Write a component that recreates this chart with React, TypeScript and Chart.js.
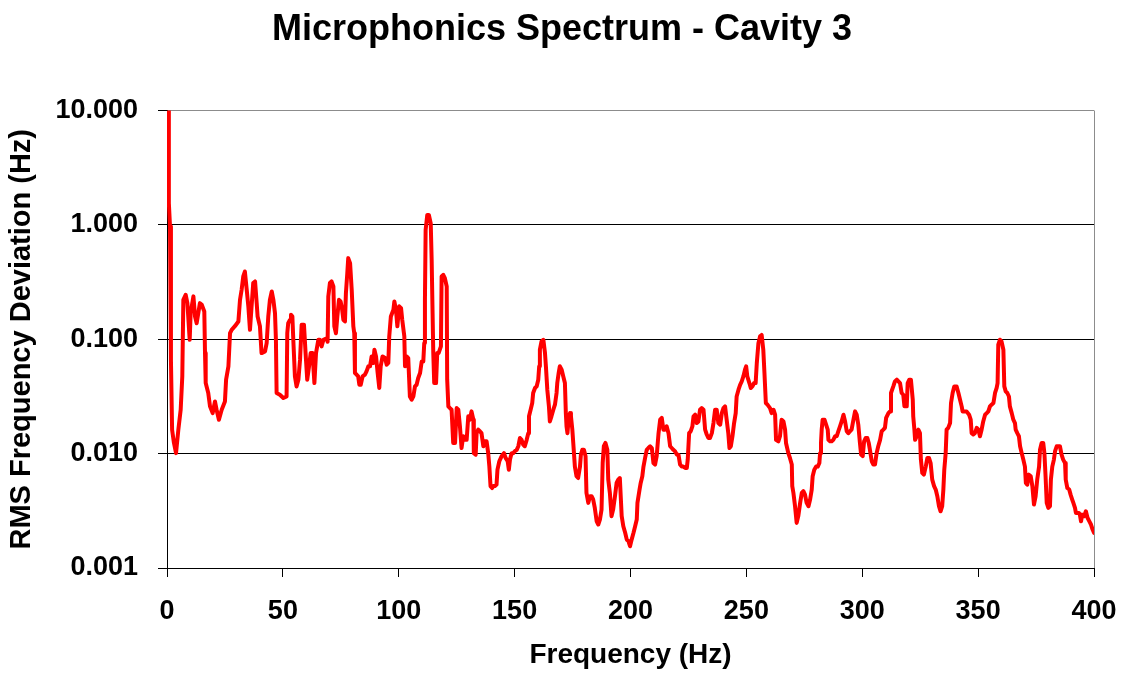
import React, { useEffect, useRef } from "react";
import { Chart, registerables } from "chart.js";

Chart.register(...registerables);

// Frequency axis positions (Hz) of the traced spectrum
const freqHz = [
  0.5, 0.8, 1.3, 1.7, 2.2, 3.0, 3.9, 4.9, 5.9, 6.6, 7.05, 8.05, 8.8, 9.8, 10.2, 11.4, 12.1, 12.8, 13.5, 14.2,
  15.0, 16.1, 16.4, 16.7, 17.8, 18.55, 19.7, 20.7, 21.4, 22.4, 23.6, 25.0, 25.5, 26.5, 27.2, 27.9, 29.3, 30.8, 31.5, 32.2,
  32.9, 33.6, 34.4, 35.1, 35.8, 36.5, 37.2, 38.0, 38.7, 39.1, 40.1, 40.8, 42.3, 43.0, 43.7, 44.4, 45.2, 45.9, 46.6, 47.0,
  47.3, 48.7, 50.2, 51.6, 51.9, 52.3, 53.1, 53.5, 54.1, 54.5, 55.2, 55.9, 56.7, 57.4, 58.1, 59.1, 59.8, 60.5, 61.3, 62.0,
  62.8, 63.6, 64.3, 65.3,
  66.0, 66.7, 67.5, 68.9, 69.3, 69.6, 70.3, 71.0, 71.8, 72.2, 72.9, 73.5, 74.2, 74.9, 75.5, 76.1, 76.8, 77.2, 77.8, 78.2,
  79.0, 79.7, 80.4, 80.8, 81.1, 81.8, 82.5, 83.0, 83.6, 84.4, 85.4, 86.1, 86.9, 87.6, 88.3, 89.0, 89.5, 90.2, 90.9, 91.6,
  92.2, 93.0, 94.1, 94.8, 95.5, 95.9, 96.6, 97.7, 98.1, 98.8, 99.4, 100.2, 101.0, 101.5, 102.4, 102.7, 103.4, 104.1, 104.8, 105.6,
  106.3, 107.0, 107.7, 108.4, 109.2, 109.9, 110.6, 111.0, 111.3, 111.6, 112.3, 113.0, 113.8, 114.2, 114.6, 114.9, 115.3, 116.1, 116.6, 117.2,
  118.2, 118.5, 119.2, 119.9, 120.7, 120.9, 121.4, 122.1, 122.8, 123.5, 124.3, 125.0, 125.7, 126.4, 127.1, 127.8, 128.6, 129.3, 130.0,
  130.7, 131.4, 132.2, 132.4, 133.2, 133.6, 134.3, 135.0, 135.7, 136.5, 137.2, 137.9, 138.6, 139.1, 139.6, 140.3, 140.8, 141.5, 142.2, 142.6,
  143.4, 144.4, 145.4, 146.1, 147.0, 147.5, 148.0, 148.7, 149.4, 150.1, 150.9, 151.6, 152.3, 153.0, 153.7, 154.4, 155.2, 155.9, 156.2, 156.9,
  157.6, 158.0, 158.8, 159.5, 160.2, 160.6, 160.9, 161.6, 162.4, 163.1, 163.5, 164.1, 164.8, 165.2, 165.9, 166.7, 167.4, 168.1, 168.4, 169.0,
  169.5, 170.3, 171.0, 171.7, 172.1, 172.4, 172.8, 173.4, 173.9, 174.3, 174.9, 175.3, 176.0, 176.7, 177.4, 178.2, 178.6, 179.2, 179.9, 180.6,
  181.0, 181.8, 182.5, 183.2, 183.9, 184.6, 185.4, 186.1, 186.8, 187.5, 188.0, 188.5, 189.2, 190.0, 190.4, 191.1, 191.8, 192.5, 193.3, 194.0,
  194.7, 195.4,
  196.2, 196.9, 197.7, 198.4, 199.1, 199.8, 200.5, 201.3, 202.0, 202.7, 203.0, 203.9, 204.4, 205.1, 205.6, 206.3, 207.0, 207.7, 208.5, 209.2,
  209.9, 210.6, 211.3, 212.1, 212.8, 213.5, 214.2, 214.9, 215.6, 216.4, 217.1, 217.8, 218.5, 219.2, 220.0, 220.7, 221.4, 222.1, 222.8, 223.6,
  224.3, 224.7, 225.3, 226.0, 226.7, 227.2, 227.9, 228.6, 229.3, 230.0, 230.7, 231.5, 232.2, 232.9, 233.6, 234.3, 235.1, 235.8, 236.5, 237.2,
  237.9, 238.7, 239.4, 240.1, 240.8, 241.5, 242.2, 242.7, 243.3, 244.0, 244.7, 245.4, 245.8, 246.6, 247.3, 248.0, 248.7, 249.4, 249.9, 250.4,
  251.3, 251.9, 252.6, 253.3, 254.0, 254.5, 255.2, 255.9, 256.6, 257.3, 257.8, 258.4, 259.1,
  260.2, 260.9, 261.7, 262.4, 262.8, 263.8, 264.5, 265.2, 266.0, 266.7, 267.1, 268.1, 268.8, 269.6, 269.8, 270.3, 271.0, 271.7, 272.4, 273.2,
  273.9, 274.6, 275.3, 276.0, 276.8, 277.5, 278.2, 278.6, 279.3, 280.1, 280.8, 281.5, 281.8, 282.2, 282.5, 282.9, 283.7, 284.4, 285.1, 285.4,
  286.1, 286.8, 287.5, 288.3, 289.0, 289.7, 290.4, 291.1, 291.9, 292.6, 293.3, 294.0, 294.7, 295.4, 296.2, 296.9, 297.6, 298.3, 299.0, 299.5,
  300.2, 300.8, 301.5, 302.2, 302.8, 303.4, 304.1, 304.8, 305.5, 306.2, 306.9, 307.7, 308.4, 309.1, 309.8, 310.3, 311.3, 312.0, 312.4, 313.4,
  314.1, 314.9, 315.6, 316.3, 317.0, 317.7, 318.2, 319.2, 319.6, 320.3, 321.0, 321.8, 322.0, 322.5, 322.8, 323.5, 324.2,
  324.9, 325.3, 325.9, 326.6, 327.4, 328.1, 328.8, 329.5, 330.2, 331.0, 331.7, 332.4, 333.1, 333.8, 334.5, 335.0, 335.4, 336.0, 336.4, 337.1,
  337.9, 338.3, 339.0, 339.7, 340.7, 341.5, 342.2, 342.9, 343.3, 344.0, 345.0, 346.1, 346.8, 347.2, 347.9, 348.6, 349.4, 350.1, 350.8, 351.5,
  352.2, 353.0, 353.7, 354.4, 355.1, 355.8, 356.6, 357.3, 358.0, 358.4, 358.7, 359.4, 360.1, 360.9, 361.3, 361.9, 362.6, 363.3, 363.7, 364.5,
  365.2, 365.9, 366.2, 366.9, 367.6, 368.1, 368.8, 369.5, 370.2, 370.6, 371.2, 371.9, 372.7, 373.4, 374.1, 374.8, 375.5, 376.3, 376.7, 377.4,
  378.1, 378.6, 379.1, 379.6, 380.3, 381.0, 381.4, 382.0, 382.7, 383.2, 383.9, 384.6, 385.3, 386.0, 386.7, 387.5, 387.8, 388.5, 389.3, 389.9,
  390.6, 391.1, 391.8, 392.2, 392.9, 393.5, 393.9, 394.4, 394.9, 395.7, 396.5, 397.2, 398.0, 398.7, 399.4, 400.0,
];

// RMS frequency deviation (Hz) at each frequency above
const rmsHz = [
  14, 1.55, 0.97, 0.066, 0.0162, 0.0124, 0.0101, 0.0162, 0.0242, 0.0473, 0.221, 0.245, 0.207, 0.099, 0.169, 0.237, 0.158, 0.138, 0.169, 0.207,
  0.2, 0.175, 0.0757, 0.0414, 0.0339, 0.0259, 0.0226, 0.0286, 0.0242, 0.0198, 0.0242, 0.0286, 0.0443, 0.058, 0.113, 0.121, 0.13, 0.143, 0.221, 0.271,
  0.354, 0.391, 0.271, 0.194, 0.121, 0.194, 0.31, 0.32, 0.207, 0.158, 0.13, 0.0757, 0.0783, 0.0925, 0.158, 0.221, 0.262, 0.221, 0.169, 0.099,
  0.0339, 0.0327, 0.0306, 0.0316, 0.113, 0.138, 0.148, 0.164, 0.158, 0.099, 0.0473, 0.0387, 0.0443, 0.066, 0.134, 0.134, 0.0757, 0.0443, 0.058, 0.0757,
  0.0757, 0.0414, 0.0757, 0.099,
  0.099, 0.0866, 0.099, 0.102, 0.095, 0.237, 0.31, 0.32, 0.289, 0.13, 0.113, 0.158, 0.221, 0.214, 0.187, 0.148, 0.143, 0.253, 0.378, 0.512,
  0.463, 0.271, 0.13, 0.113, 0.0507, 0.049, 0.0473, 0.04, 0.04, 0.0473, 0.049, 0.0524, 0.058, 0.058, 0.0708, 0.062, 0.081, 0.0708, 0.0507, 0.0375,
  0.058, 0.0708, 0.0685, 0.0599, 0.062, 0.106, 0.158, 0.181, 0.214, 0.181, 0.13, 0.194, 0.187, 0.148, 0.106, 0.058, 0.0708, 0.0685, 0.0316, 0.0296,
  0.0316, 0.0387, 0.04, 0.0458, 0.0507, 0.064, 0.064, 0.0925, 0.221, 0.904, 1.22, 1.22, 1.03, 0.494, 0.169, 0.0757, 0.0414, 0.0414, 0.0757, 0.0757,
  0.0866, 0.354, 0.366, 0.342, 0.289, 0.0443, 0.0259, 0.025, 0.0242, 0.0124, 0.0124, 0.025, 0.0242, 0.0173, 0.0112, 0.0142, 0.0132, 0.0132, 0.0212,
  0.0198, 0.0234, 0.0198, 0.0101, 0.0098, 0.0151, 0.0162, 0.0157, 0.0151, 0.0116, 0.0128, 0.0128, 0.0101, 0.0077, 0.0052, 0.005, 0.0052, 0.0052, 0.00536, 0.00724,
  0.00857, 0.0095, 0.0101, 0.00917, 0.00857, 0.00724, 0.00887, 0.0101, 0.0101, 0.0105, 0.0108, 0.0116, 0.0137, 0.0132, 0.012, 0.0116, 0.0132, 0.0151, 0.0212, 0.0242,
  0.0277, 0.0339, 0.0375, 0.0387, 0.0443, 0.058, 0.081, 0.0957, 0.099, 0.0757, 0.058, 0.0362, 0.0259, 0.0191, 0.0212, 0.0242, 0.0268, 0.0339, 0.0414, 0.0507,
  0.058, 0.0542, 0.0473, 0.0414, 0.0226, 0.0173, 0.0151, 0.0212, 0.0226, 0.0212, 0.0162, 0.0124, 0.0077, 0.00634, 0.00612, 0.0077, 0.0098, 0.0108, 0.0108, 0.0095,
  0.00453, 0.00371, 0.00424, 0.00424, 0.00397, 0.00335, 0.00256, 0.0024, 0.00265, 0.00324, 0.00828, 0.0116, 0.0124, 0.0108, 0.00593, 0.00453, 0.00284, 0.00324, 0.00424, 0.00554,
  0.00593, 0.00612,
  0.00284, 0.00232, 0.00203, 0.00177, 0.00172, 0.00155, 0.00177, 0.00203, 0.00232, 0.00265, 0.00371, 0.00485, 0.00554, 0.00634, 0.0077, 0.00917, 0.0108, 0.0112, 0.0116, 0.0112,
  0.00828, 0.00802, 0.0095, 0.0151, 0.0198, 0.0205, 0.0162, 0.0162, 0.0173, 0.0151, 0.0116, 0.0112, 0.0108, 0.0105, 0.0098, 0.0098, 0.00802, 0.0077, 0.0077, 0.0075,
  0.0075, 0.00887, 0.0151, 0.0157, 0.0173, 0.0212, 0.0219, 0.0185, 0.0191, 0.0242, 0.025, 0.0242, 0.0162, 0.0147, 0.0137, 0.0137, 0.0151, 0.0185, 0.0242, 0.0242,
  0.0185, 0.0179, 0.0226, 0.025, 0.0259, 0.0198, 0.0151, 0.0112, 0.0116, 0.0142, 0.0185, 0.0226, 0.0316, 0.0362, 0.04, 0.0428, 0.0473, 0.0542, 0.058, 0.0473,
  0.0414, 0.0375, 0.0387, 0.0414, 0.0414, 0.062, 0.0925, 0.106, 0.109, 0.081, 0.0507, 0.0277, 0.0268,
  0.025, 0.0226, 0.0242, 0.0219, 0.0132, 0.0128, 0.0142, 0.0198, 0.0191, 0.0162, 0.0124, 0.0101, 0.00917, 0.00802, 0.0052, 0.00453, 0.00347, 0.00248, 0.00284, 0.00371,
  0.00453, 0.00469, 0.00438, 0.00371, 0.00347, 0.00397, 0.00485, 0.00634, 0.00724, 0.0077, 0.0077, 0.00828, 0.0101, 0.0124, 0.0162, 0.0198, 0.0198, 0.0179, 0.0162, 0.0132,
  0.0128, 0.0128, 0.0132, 0.0142, 0.0142, 0.0157, 0.0173, 0.0191, 0.0219, 0.0191, 0.0157, 0.0151, 0.0157, 0.0162, 0.0198, 0.0234, 0.0219, 0.0179, 0.0124, 0.0098,
  0.0095, 0.0128, 0.0137, 0.0137, 0.0124, 0.0105, 0.00857, 0.00802, 0.00802, 0.0101, 0.0116, 0.0132, 0.0157, 0.0162, 0.0168, 0.0205, 0.0226, 0.0234, 0.0339, 0.0387,
  0.0428, 0.0443, 0.0428, 0.0414, 0.0339, 0.0327, 0.0259, 0.0259, 0.0414, 0.0443, 0.0443, 0.0296, 0.0212, 0.0162, 0.0132, 0.0142, 0.0162,
  0.0151, 0.00887, 0.00678, 0.00655, 0.0077, 0.00917, 0.00917, 0.00828, 0.00593, 0.0052, 0.00485, 0.00424, 0.00347, 0.00313, 0.00347, 0.00485, 0.00724, 0.0101, 0.0162, 0.0168,
  0.0185, 0.0277, 0.0339, 0.0387, 0.0387, 0.0339, 0.0296, 0.0259, 0.0234, 0.0234, 0.0234, 0.0219, 0.0198, 0.0151, 0.0147, 0.0151, 0.0168, 0.0162, 0.0142, 0.0162,
  0.0191, 0.0219, 0.0226, 0.0234, 0.0259, 0.0268, 0.0277, 0.0339, 0.0375, 0.0414, 0.0896, 0.099, 0.0957, 0.081, 0.0387, 0.035, 0.0339, 0.0316, 0.0259, 0.0226,
  0.0198, 0.0185, 0.0162, 0.0151, 0.0142, 0.0116, 0.0101, 0.00887, 0.0077, 0.00554, 0.00536, 0.00655, 0.00634, 0.0052, 0.00359, 0.00424, 0.00593, 0.0077, 0.0108, 0.0124,
  0.0124, 0.0101, 0.00634, 0.00371, 0.00335, 0.00347, 0.00593, 0.0077, 0.00887, 0.0105, 0.0116, 0.0116, 0.0116, 0.0098, 0.00887, 0.00828, 0.00593, 0.005, 0.00485, 0.00438,
  0.00397, 0.00371, 0.00335, 0.00303, 0.00303, 0.00303, 0.00293, 0.00256, 0.00293, 0.00284, 0.00313, 0.00275, 0.00256, 0.0024, 0.00217, 0.00203,
];

const xTickValues = [0, 50, 100, 150, 200, 250, 300, 350, 400];
const yTickValues = [0.001, 0.01, 0.1, 1, 10];
const yTickLabels = ["0.001", "0.010", "0.100", "1.000", "10.000"];

const chartTitle = "Microphonics Spectrum - Cavity 3";
const xTitle = "Frequency (Hz)";
const yTitle = "RMS Frequency Deviation (Hz)";

const FONT = "'Liberation Sans', Arial, Helvetica, sans-serif";

export default function App() {
  const canvasRef = useRef<HTMLCanvasElement | null>(null);

  useEffect(() => {
    const canvas = canvasRef.current;
    if (!canvas) return;
    const points = freqHz.map((f, i) => ({ x: f, y: rmsHz[i] }));
    const chart = new Chart(canvas, {
      type: "line",
      data: {
        datasets: [
          {
            data: points,
            borderColor: "#ff0000",
            backgroundColor: "#ff0000",
            borderWidth: 4,
            pointRadius: 0,
            pointHoverRadius: 0,
            tension: 0,
            fill: false,
            borderJoinStyle: "round",
            borderCapStyle: "round",
          },
        ],
      },
      options: {
        animation: false,
        responsive: false,
        devicePixelRatio: 1,
        events: [],
        layout: { padding: 0 },
        plugins: {
          legend: { display: false },
          tooltip: { enabled: false },
          title: {
            display: true,
            text: chartTitle,
            color: "#000",
            font: { family: FONT, size: 36, weight: "bold" },
            padding: { top: 8, bottom: 59.3 },
          },
        },
        scales: {
          x: {
            type: "linear",
            min: 0,
            max: 400,
            afterBuildTicks: (s: any) => {
              s.ticks = xTickValues.map((v) => ({ value: v }));
            },
            afterFit: (s: any) => {
              s.height = 109;
              s.paddingLeft = 0;
              s.paddingRight = 30;
            },
            ticks: {
              color: "#000",
              font: { family: FONT, size: 27, weight: "bold" },
              padding: 18,
              maxRotation: 0,
              autoSkip: false,
              callback: (v: any) => String(v),
            },
            grid: {
              drawOnChartArea: true,
              color: (c: any) => (c.tick && c.tick.value === 400 ? "#8c8c8c" : "rgba(0,0,0,0)"),
              tickColor: "#000",
              tickLength: 9,
              lineWidth: 1,
            },
            border: { display: true, color: "#000", width: 1 },
            title: {
              display: true,
              text: xTitle,
              color: "#000",
              font: { family: FONT, size: 28, weight: "bold" },
              padding: { top: 0, bottom: 5 },
            },
          },
          y: {
            type: "logarithmic",
            min: 0.001,
            max: 10,
            afterBuildTicks: (s: any) => {
              s.ticks = yTickValues.map((v) => ({ value: v }));
            },
            afterFit: (s: any) => {
              s.width = 167;
            },
            ticks: {
              color: "#000",
              font: { family: FONT, size: 27, weight: "bold" },
              padding: 20,
              autoSkip: false,
              callback: (_v: any, i: number) => yTickLabels[i],
            },
            grid: {
              color: (c: any) => (c.tick && c.tick.value >= 10 ? "#8c8c8c" : "#000"),
              tickColor: "#000",
              tickLength: 9,
              lineWidth: 1,
            },
            border: { display: true, color: "#000", width: 1 },
            title: {
              display: true,
              text: yTitle,
              color: "#000",
              font: { family: FONT, size: 29, weight: "bold" },
              padding: { top: 5, bottom: 0 },
            },
          },
        },
      },
    } as any);
    return () => chart.destroy();
  }, []);

  return (
    <div style={{ position: "absolute", left: 0, top: 0, width: 1124, height: 677, background: "#fff" }}>
      <canvas ref={canvasRef} width={1124} height={677} style={{ display: "block", width: 1124, height: 677 }} />
    </div>
  );
}
